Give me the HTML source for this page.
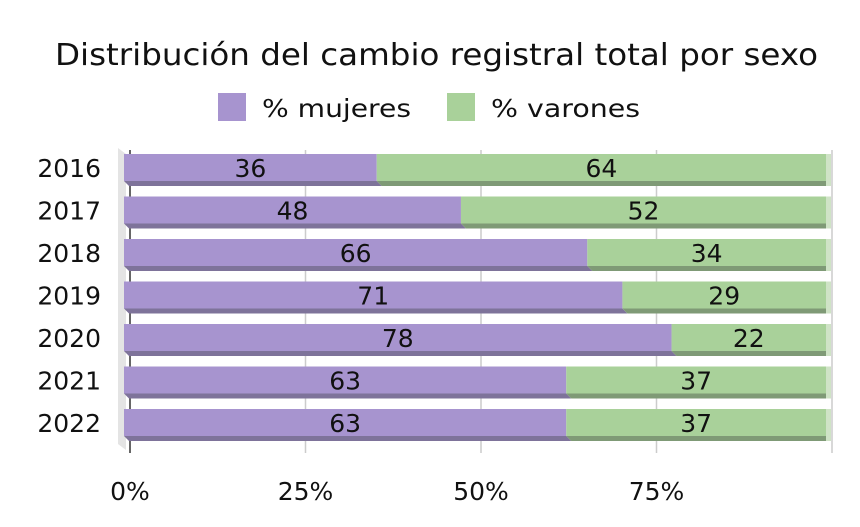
<!DOCTYPE html>
<html><head><meta charset="utf-8"><style>
body{margin:0;background:#fff;}
text{font-family:"DejaVu Sans","Liberation Sans",sans-serif;fill:#111;}
</style></head><body>
<svg width="860" height="522">
<text x="55" y="65" font-size="30" textLength="763" lengthAdjust="spacingAndGlyphs">Distribución del cambio registral total por sexo</text>
<g>
<rect x="218" y="93" width="28" height="28" fill="#a794cf"/>
<text x="262" y="117" font-size="25" textLength="149" lengthAdjust="spacingAndGlyphs">% mujeres</text>
<rect x="447" y="93" width="28" height="28" fill="#a9d19a"/>
<text x="491" y="117" font-size="25" textLength="149" lengthAdjust="spacingAndGlyphs">% varones</text>
</g>
<polygon points="118,148 126,154 126,450 118,444" fill="#e4e4e4"/>
<g id="grid"></g>
<g id="bars"></g>
<g id="labels"></g>
</svg>
<script>
const years=["2016","2017","2018","2019","2020","2021","2022"];
const mujeres=[36,48,66,71,78,63,63];
const varones=[64,52,34,29,22,37,37];
const ticks=[0,25,50,75,100];
const tickLabels=["0%","25%","50%","75%",""];
const NS="http://www.w3.org/2000/svg";
const x0=130,x1=832,fx=124;
const xs=v=>x0+(x1-x0)*v/100;
const fxs=v=>fx+(x1-x0)*v/100;
const rowY=i=>154+i*42.5;
function mk(tag,attrs,parent){const e=document.createElementNS(NS,tag);for(const k in attrs)e.setAttribute(k,attrs[k]);parent.appendChild(e);return e;}
const grid=document.getElementById('grid'),bars=document.getElementById('bars'),labels=document.getElementById('labels');
ticks.forEach((t,i)=>{
  const l=mk('line',{x1:xs(t),x2:xs(t),y1:150,y2:453,stroke:i==0?"#333":"#ccc","stroke-width":1.5},grid);
  
  
  const tx=mk('text',{x:xs(t),y:500,"font-size":25,"text-anchor":"middle"},labels);
  tx.textContent=tickLabels[i];
  
  
});
years.forEach((y,i)=>{
  const top=rowY(i),h=27,d=5;
  const segs=[[0,mujeres[i],"#a794cf","#7e739a"],[mujeres[i],mujeres[i]+varones[i],"#a9d19a","#7f9a76"]];
  segs.forEach((s,j)=>{
    const a=fxs(s[0]),b=fxs(s[1]);
    const bot=mk('polygon',{points:`${a},${top+h} ${b},${top+h} ${b+5},${top+h+d} ${a+5},${top+h+d}`,fill:s[3]},bars);
    
    
    const r=mk('rect',{x:a,y:top,width:b-a,height:h,fill:s[2]},bars);
    
    
    const t=mk('text',{x:(a+b)/2,y:top+23,"font-size":25,"text-anchor":"middle"},labels);
    t.textContent=j==0?mujeres[i]:varones[i];
    
    
  });
  const side=mk('rect',{x:fxs(100),y:top,width:5,height:h+d,fill:"#cfe3c6"},bars);
  
  
  const yl=mk('text',{x:101,y:top+23,"font-size":25,"text-anchor":"end"},labels);
  yl.textContent=y;
  
  
});
</script>
</body></html>
